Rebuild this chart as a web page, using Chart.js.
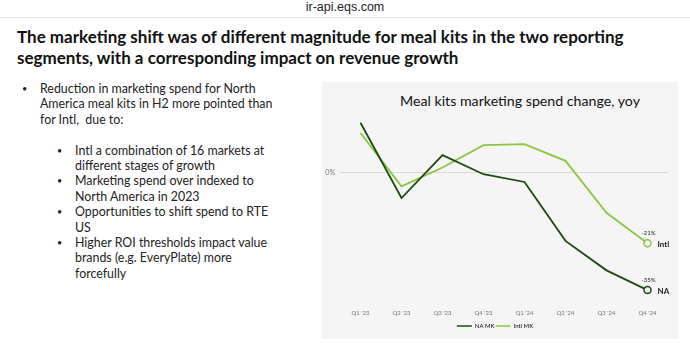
<!DOCTYPE html>
<html>
<head>
<meta charset="utf-8">
<script src="https://cdn.jsdelivr.net/npm/chart.js@4.4.1/dist/chart.umd.min.js"></script>
<style>
  html, body { margin: 0; padding: 0; background: #fff; }
  body { width: 690px; height: 343px; position: relative; overflow: hidden; font-family: "Lato", "Noto Sans", sans-serif; color: #111; }
  .topbar { position: absolute; left: 0; top: 0; width: 690px; height: 17px; border-bottom: 1px solid #e6e6e6; text-align: center; font: 12.5px "Liberation Sans", sans-serif; color: #222; line-height: 15px; }
  h1 { position: absolute; left: 17px; top: 26px; margin: 0; font: bold 17px/21px "Lato", sans-serif; color: #111; }
  .bullets { position: absolute; left: 0; top: 81px; font-size: 12.4px; line-height: 15.4px; color: #222; }
  .bullets .b { position: relative; padding-left: 40px; }
  .bullets .b::before { content: "•"; position: absolute; left: 22px; font-size: 9px; }
  .bullets .s { position: relative; padding-left: 75px; }
  .bullets .s::before { content: "•"; position: absolute; left: 57px; font-size: 9px; }
  .panel { position: absolute; left: 322px; top: 82px; width: 356px; height: 257px; background: #f5f5f5; }
  .panel .ttl { position: absolute; left: 78px; top: 10px; font: 14.2px/17px "Lato", sans-serif; color: #111; white-space: nowrap; }
  .panel canvas { position: absolute; left: 0; top: 0; }
</style>
</head>
<body>
<div class="topbar">ir-api.eqs.com</div>
<h1>The marketing shift was of different magnitude for meal kits in the two reporting<br>segments, with a corresponding impact on revenue growth</h1>
<div class="bullets">
  <div class="b">Reduction in marketing spend for North<br>America meal kits in H2 more pointed than<br>for Intl,&nbsp; due to:</div>
  <div style="height:15.4px"></div>
  <div class="s">Intl a combination of 16 markets at<br>different stages of growth</div>
  <div class="s">Marketing spend over indexed to<br>North America in 2023</div>
  <div class="s">Opportunities to shift spend to RTE<br>US</div>
  <div class="s">Higher ROI thresholds impact value<br>brands (e.g. EveryPlate) more<br>forcefully</div>
</div>
<div class="panel">
  <div class="ttl">Meal kits marketing spend change, yoy</div>
  <canvas id="mkChart" width="356" height="257"></canvas>
</div>
<script>
const quarters = ["Q1 '23", "Q2 '23", "Q3 '23", "Q4 '23", "Q1 '24", "Q2 '24", "Q3 '24", "Q4 '24"];
const naSpend = [15, -7.5, 5.3, -0.4, -2.7, -20.3, -29.1, -35];
const intlSpend = [11.9, -4.0, 1.6, 8.3, 8.6, 3.6, -11.9, -21];
const seriesNames = ["NA MK", "Intl MK"];
const endNames = ["NA", "Intl"];

const naColor = "#1d4a10";
const intlColor = "#8cc63f";

// only the last quarter gets a marker
function lastOnly(arr, r) {
  return arr.map((v, i) => i === arr.length - 1 ? r : 0);
}

// value and segment name next to the last point
const endLabels = {
  id: "endLabels",
  afterDatasetsDraw(chart) {
    const ctx = chart.ctx;
    chart.data.datasets.forEach((ds, i) => {
      const meta = chart.getDatasetMeta(i);
      const pt = meta.data[meta.data.length - 1];
      const v = ds.data[ds.data.length - 1];
      ctx.save();
      ctx.fillStyle = "#222";
      ctx.textAlign = "center";
      ctx.textBaseline = "middle";
      ctx.font = "6px 'Lato', sans-serif";
      ctx.fillText(v + "%", pt.x + 1, pt.y - 10);
      ctx.font = "bold 8px 'Lato', sans-serif";
      ctx.textAlign = "left";
      ctx.fillText(endNames[i], pt.x + 10, pt.y + 1);
      ctx.restore();
    });
  }
};

graph = new Chart("mkChart", {
  type: "line",
  data: {
    labels: quarters,
    datasets: [
      {
        label: seriesNames[0],
        data: naSpend,
        borderColor: naColor,
        backgroundColor: "#f5f5f5",
        borderWidth: 1.8,
        pointRadius: lastOnly(naSpend, 3.5),
        pointBorderWidth: 1.5,
        tension: 0
      },
      {
        label: seriesNames[1],
        data: intlSpend,
        borderColor: intlColor,
        backgroundColor: "#f5f5f5",
        borderWidth: 1.8,
        pointRadius: lastOnly(intlSpend, 3.5),
        pointBorderWidth: 1.5,
        tension: 0
      }
    ]
  },
  options: {
    responsive: false,
    animation: false,
    layout: { padding: { left: 0, right: 10, top: 34, bottom: 0 } },
    plugins: {
      title: { display: false },
      legend: {
        position: "bottom",
        labels: {
          boxWidth: 15,
          boxHeight: 1.5,
          padding: 1,
          color: "#444",
          font: { family: "Lato", size: 6 },
          generateLabels(chart) {
            return chart.data.datasets.map((ds, i) => ({
              text: ds.label,
              fillStyle: ds.borderColor,
              strokeStyle: ds.borderColor,
              lineWidth: 0,
              datasetIndex: i
            }));
          }
        }
      },
      tooltip: { enabled: false }
    },
    scales: {
      x: {
        offset: true,
        grid: { display: false },
        border: { display: false },
        ticks: { color: "#777", font: { family: "Lato", size: 6 }, padding: 5, maxRotation: 0 }
      },
      y: {
        min: -37,
        max: 17,
        border: { display: false },
        grid: { color: "#d8d8d8", lineWidth: 1, drawTicks: false },
        afterBuildTicks(scale) { scale.ticks = [{ value: 0 }]; },
        afterFit(scale) { scale.width = 18; },
        ticks: {
          color: "#777",
          padding: 5,
          font: { family: "Lato", size: 7 },
          callback: v => v + "%"
        }
      }
    }
  },
  plugins: [endLabels]
});
</script>
</body>
</html>
